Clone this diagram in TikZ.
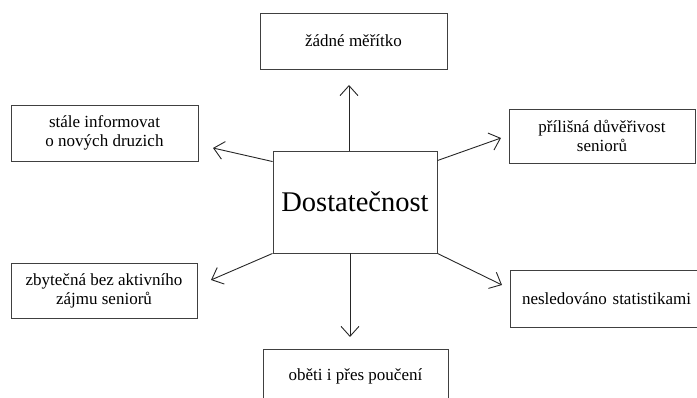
\documentclass[tikz,border=0pt]{standalone}
\usepackage{fontspec}
\setmainfont{Liberation Serif}
\usetikzlibrary{arrows.meta}
\begin{document}
\begin{tikzpicture}[x=1pt,y=1pt,
  box/.style={draw=black!75,line width=0.9pt,fill=white,inner sep=0pt,align=center,
    font=\fontsize{17}{19}\selectfont},
  conn/.style={draw=black!85,line width=0.9pt,-{Straight Barb[length=10pt,width=18pt,line width=0.9pt]}}]
\useasboundingbox (0,0) rectangle (697,398);
\clip (0,0) rectangle (697,398);
% center box
\node[box,minimum width=164pt,minimum height=102pt,font=\fontsize{28.5}{30}\selectfont] (c) at (355,196) {Dostatečnost};
% outer boxes
\node[box,minimum width=187pt,minimum height=56pt] (top) at (353.5,357) {žádné měřítko};
\node[box,minimum width=187pt,minimum height=56pt] (lt) at (104.5,265) {stále informovat\\o nových druzich};
\node[box,minimum width=186pt,minimum height=54pt] (rt) at (602,262) {přílišná důvěřivost\\seniorů};
\node[box,minimum width=186pt,minimum height=55pt] (lb) at (104,107.5) {zbytečná bez aktivního\\zájmu seniorů};
\node[box,minimum width=200pt,minimum height=57pt,text width=190pt,align=left] (rb) at (610,99.5) {\hspace*{7pt}nesledováno statistikami};
\node[box,minimum width=185pt,minimum height=54pt] (bot) at (355.5,22) {oběti i přes poučení};
% arrow end points
\coordinate (etop) at (349,313);
\coordinate (elt) at (213,250);
\coordinate (ert) at (501,260);
\coordinate (elb) at (211,118);
\coordinate (erb) at (502,113);
\coordinate (ebot) at (350,61);
% connectors
\draw[conn] (c.north -| etop) -- (etop);
\draw[conn] ([yshift=-11pt]c.north west) -- (elt);
\draw[conn] ([yshift=-10pt]c.north east) -- (ert);
\draw[conn] (c.south west) -- (elb);
\draw[conn] (c.south east) -- (erb);
\draw[conn] (c.south -| ebot) -- (ebot);
\end{tikzpicture}
\end{document}
